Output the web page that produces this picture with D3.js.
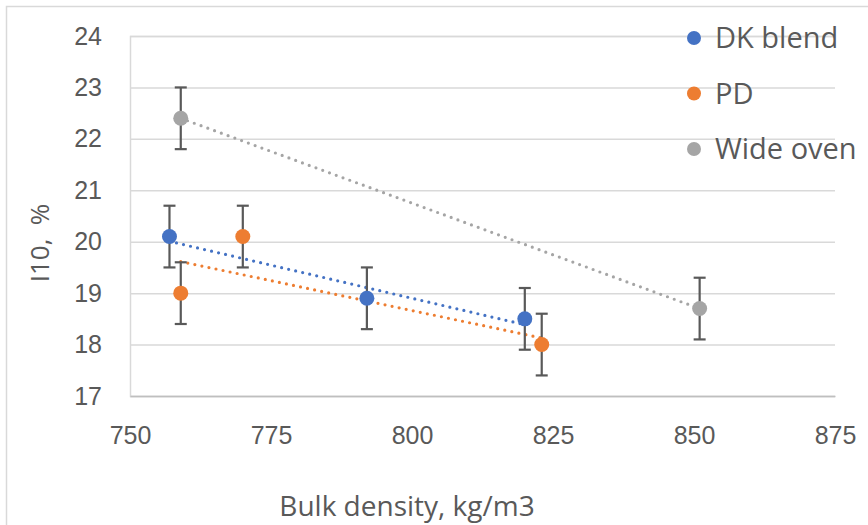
<!DOCTYPE html>
<html>
<head>
<meta charset="utf-8">
<script src="https://cdn.jsdelivr.net/npm/d3@7"></script>
<style>
  html, body { margin: 0; padding: 0; background: #ffffff; }
  svg { display: block; font-family: "Open Sans", "Noto Sans", sans-serif; }
</style>
</head>
<body>
<svg id="chart" width="868" height="525"></svg>
<script>
// Series: bulk density (kg/m3) vs I10 (%), each with a ±0.6 error bar
const seriesNames = ["DK blend", "PD", "Wide oven"];
const seriesColors = ["#4472C4", "#ED7D31", "#A5A5A5"];
const dkX = [757, 792, 820];
const dkY = [20.1, 18.9, 18.5];
const pdX = [759, 770, 823];
const pdY = [19.0, 20.1, 18.0];
const wideX = [759, 851];
const wideY = [22.4, 18.7];
const errorAmount = 0.6;
const xTicks = [750, 775, 800, 825, 850, 875];
const yTicks = [17, 18, 19, 20, 21, 22, 23, 24];
const xTitle = "Bulk density, kg/m3";
const yTitle = "I10,  %";

const series = [
  { name: seriesNames[0], color: seriesColors[0], xs: dkX, ys: dkY },
  { name: seriesNames[1], color: seriesColors[1], xs: pdX, ys: pdY },
  { name: seriesNames[2], color: seriesColors[2], xs: wideX, ys: wideY }
];

const svg = d3.select("#chart");
const plot = { left: 130, right: 835, top: 36, bottom: 396 };
const textColor = "#595959";

// chart area outline
svg.append("rect")
  .attr("x", 6.5).attr("y", 6.5)
  .attr("width", 900).attr("height", 600)
  .attr("fill", "#ffffff")
  .attr("stroke", "#d9d9d9").attr("stroke-width", 1.5);

const x = d3.scaleLinear().domain([750, 875]).range([plot.left, plot.right]);
const y = d3.scaleLinear().domain([17, 24]).range([plot.bottom, plot.top]);

// horizontal gridlines and value labels
const yAxis = d3.axisLeft(y).tickValues(yTicks).tickSize(-(plot.right - plot.left)).tickFormat(d3.format("d")).tickPadding(28);
const gy = svg.append("g").attr("transform", `translate(${plot.left},0)`).call(yAxis);
gy.select(".domain").attr("stroke", "#d9d9d9").attr("stroke-width", 1.5);
gy.selectAll(".tick line").attr("stroke", "#d9d9d9").attr("stroke-width", 1.5);
gy.selectAll(".tick text")
  .attr("fill", textColor)
  .style("font-size", "25px");

// bottom axis
const xAxis = d3.axisBottom(x).tickValues(xTicks).tickSize(0).tickFormat(d3.format("d")).tickPadding(30);
const gx = svg.append("g").attr("transform", `translate(0,${plot.bottom})`).call(xAxis);
gx.select(".domain").attr("stroke", "#bfbfbf").attr("stroke-width", 1.5);
gx.selectAll(".tick text")
  .attr("fill", textColor)
  .style("font-size", "25px");

// axis titles
svg.append("text")
  .attr("x", 407).attr("y", 516)
  .attr("text-anchor", "middle")
  .attr("fill", textColor)
  .style("font-size", "28px")
  .text(xTitle);

svg.append("text")
  .attr("transform", "translate(49,243) rotate(-90)")
  .attr("text-anchor", "middle")
  .attr("fill", textColor)
  .style("font-size", "26px")
  .style("white-space", "pre")
  .text(yTitle);

// least-squares trendline across each series' x range
function trend(xs, ys) {
  const mx = d3.mean(xs), my = d3.mean(ys);
  const sxy = d3.sum(xs, (v, i) => (v - mx) * (ys[i] - my));
  const sxx = d3.sum(xs, v => (v - mx) * (v - mx));
  const slope = sxy / sxx;
  const x0 = d3.min(xs), x1 = d3.max(xs);
  return [[x0, my + slope * (x0 - mx)], [x1, my + slope * (x1 - mx)]];
}

const line = d3.line().x(d => x(d[0])).y(d => y(d[1]));
series.forEach(s => {
  svg.append("path")
    .attr("d", line(trend(s.xs, s.ys)))
    .attr("fill", "none")
    .attr("stroke", s.color)
    .attr("stroke-width", 3.2)
    .attr("stroke-linecap", "round")
    .attr("stroke-dasharray", "0,7.2");
});

// error bars
const capHalf = 6;
series.forEach(s => {
  const g = svg.append("g").attr("stroke", "#595959").attr("stroke-width", 2.2);
  s.xs.forEach((xv, i) => {
    const cx = x(xv), top = y(s.ys[i] + errorAmount), bot = y(s.ys[i] - errorAmount);
    g.append("line").attr("x1", cx).attr("x2", cx).attr("y1", top).attr("y2", bot);
    g.append("line").attr("x1", cx - capHalf).attr("x2", cx + capHalf).attr("y1", top).attr("y2", top);
    g.append("line").attr("x1", cx - capHalf).attr("x2", cx + capHalf).attr("y1", bot).attr("y2", bot);
  });
});

// markers
series.forEach(s => {
  svg.append("g").selectAll("circle")
    .data(s.xs.map((xv, i) => [xv, s.ys[i]]))
    .join("circle")
    .attr("cx", d => x(d[0]))
    .attr("cy", d => y(d[1]))
    .attr("r", 7.5)
    .attr("fill", s.color);
});

// legend
const legend = svg.append("g");
series.forEach((s, i) => {
  const cy = 38 + i * 55.5;
  legend.append("circle").attr("cx", 694).attr("cy", cy).attr("r", 7).attr("fill", s.color);
  legend.append("text")
    .attr("x", 715).attr("y", cy)
    .attr("dy", "0.36em")
    .attr("fill", textColor)
    .style("font-size", "29px")
    .text(s.name);
});
</script>
</body>
</html>
